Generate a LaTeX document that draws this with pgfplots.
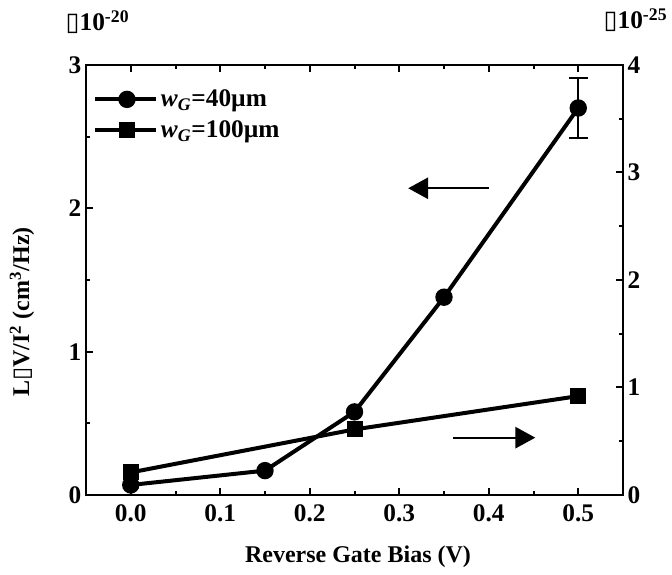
\documentclass[border=0pt]{standalone}
\usepackage{fontspec}
\setmainfont{Liberation Serif}
\newfontfamily\dejavu{DejaVu Sans}
\usepackage{pgfplots}
\pgfplotsset{compat=1.18}
\usetikzlibrary{arrows.meta}

\pgfplotsset{
  common/.style={
    anchor=south west, scale only axis,
    width=402.75pt, height=322.5pt,
    xmin=-0.05, xmax=0.55,
    tick align=inside, major tick length=5pt, minor tick length=3pt,
    axis line style={line width=2pt},
    every tick/.style={line width=1.5pt, black},
    ticklabel style={font=\fontsize{19}{22}\selectfont\bfseries},
    /pgf/number format/assume math mode=true,
    clip=false,
  }
}

\begin{document}
\begin{tikzpicture}
\useasboundingbox (0,0) rectangle (504pt,431.25pt);
\begin{axis}[common, name=ax1, at={(64.5pt,60pt)},
  ymin=0, ymax=3,
  xtick={0,0.1,0.2,0.3,0.4,0.5},
  xticklabel style={yshift=-4pt, /pgf/number format/.cd, fixed, fixed zerofill, precision=1},
  ytick={0,1,2,3},
  minor x tick num=1, minor y tick num=1,
  ytick pos=left, xtick pos=both,
  legend style={at={(0.005,0.955)}, anchor=north west, draw=none, fill=none,
    font=\fontsize{19}{22}\selectfont\bfseries, row sep=5pt},
  legend cell align=left,
  legend image code/.code={\draw[mark repeat=2,mark phase=2,#1] plot coordinates {(0pt,0pt) (24pt,0pt) (46pt,0pt)};},
]
\addplot[forget plot, black, only marks, mark=none,
  error bars/.cd, y dir=both, y explicit,
  error bar style={line width=1.5pt},
  error mark options={rotate=90, mark size=7pt, line width=1.5pt}]
  coordinates {(0.5,2.70) +- (0,0.21)};
\addplot[black, line width=3pt, mark=*, mark size=5pt] coordinates {
  (0,0.07) (0.15,0.17) (0.25,0.58) (0.35,1.38) (0.5,2.70)};
\addlegendentry{\textit{w}\textsubscript{\textit{G}}=40µm}
\addlegendimage{black, line width=3pt, mark=square*, mark size=4.5pt}
\addlegendentry{\textit{w}\textsubscript{\textit{G}}=100µm}
\draw[line width=1.5pt, -{Triangle[length=15pt,width=16pt]}] (axis cs:0.40,2.14) -- (axis cs:0.31,2.14);
\draw[line width=1.5pt, -{Triangle[length=15pt,width=16pt]}] (axis cs:0.36,0.40) -- (axis cs:0.452,0.40);
\end{axis}
\begin{axis}[common, at={(ax1.south west)},
  ymin=0, ymax=4,
  axis y line*=right, axis x line=none,
  ytick={0,1,2,3,4}, minor y tick num=1,
]
\addplot[black, line width=3pt, mark=square*, mark size=4.5pt] coordinates {
  (0,0.21) (0.25,0.61) (0.5,0.92)};
\end{axis}
\node[anchor=west, font=\fontsize{19}{22}\selectfont\bfseries] at (45.75pt,414.75pt) {{\dejavu\mdseries ▯}10\textsuperscript{-20}};
\node[anchor=east, font=\fontsize{19}{22}\selectfont\bfseries] at (504pt,416.25pt) {{\dejavu\mdseries ▯}10\textsuperscript{-25}};
\node[rotate=90, font=\fontsize{18}{22}\selectfont\bfseries] at (16.5pt,197.25pt) {L{\dejavu\mdseries ▯}V/I\textsuperscript{2} (cm\textsuperscript{3}/Hz)};
\node[font=\fontsize{18}{22}\selectfont\bfseries] at (268.5pt,13.5pt) {Reverse Gate Bias (V)};
\end{tikzpicture}
\end{document}
